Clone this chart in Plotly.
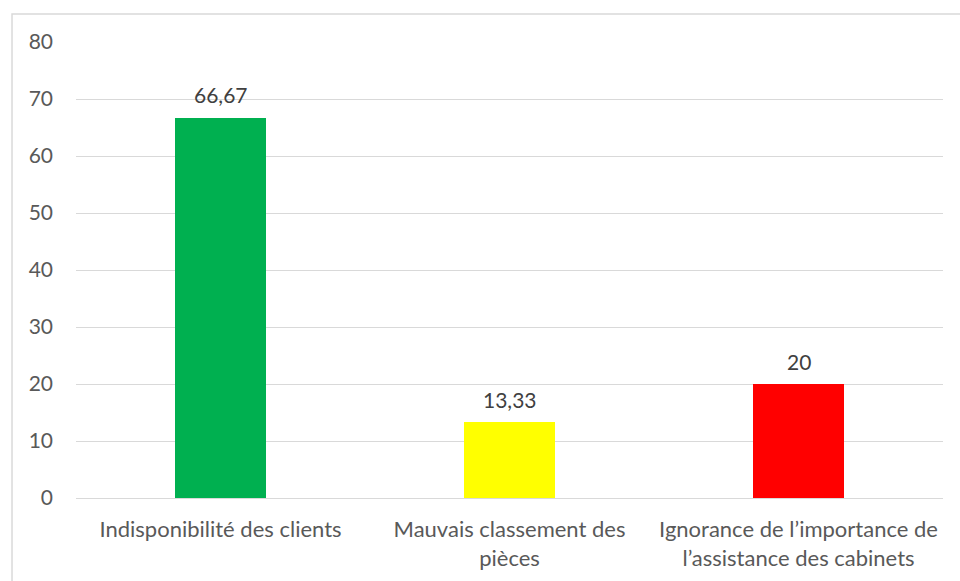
import plotly.graph_objects as go

categories = ["Indisponibilité des clients",
              "Mauvais classement des<br>pièces",
              "Ignorance de l’importance de<br>l’assistance des cabinets"]
values = [66.67, 13.33, 20]
colors = ["#00B050", "#FFFF00", "#FF0000"]
y_ticks = [0, 10, 20, 30, 40, 50, 60, 70, 80]

labels = [f"{v:g}".replace(".", ",") for v in values]

FONT = "Lato"
SIZE = 21
fig = go.Figure(go.Bar(
    x=categories, y=values, marker=dict(color=colors, line=dict(width=0)),
    width=0.315, cliponaxis=False,
))

for c, v, t in zip(categories, values, labels):
    fig.add_annotation(x=c, y=v, text=t, showarrow=False, yanchor="middle",
                       yshift=23, font=dict(size=SIZE, color="#404040", family=FONT))

fig.update_layout(
    width=960, height=581,
    margin=dict(l=76, r=17, t=42, b=83),
    paper_bgcolor="white", plot_bgcolor="white",
    font=dict(family=FONT, size=SIZE, color="#595959"),
    showlegend=False,
    bargap=0,
    xaxis=dict(showgrid=False, showline=False, ticks="", ticklabelstandoff=16,
               automargin=False, tickfont=dict(size=22, color="#595959")),
    yaxis=dict(range=[0, 80], tickvals=y_ticks, showgrid=True, gridcolor="#D9D9D9",
               gridwidth=1, zeroline=True, zerolinecolor="#D9D9D9", zerolinewidth=1,
               showline=False, ticks="", ticklabelstandoff=22, automargin=False,
               tickfont=dict(size=SIZE, color="#595959")),
    shapes=[dict(type="rect", xref="paper", yref="paper",
                 x0=-0.0738, x1=1.05, y0=-0.3, y1=1.0614,
                 line=dict(color="#D9D9D9", width=1.5), fillcolor="rgba(0,0,0,0)",
                 layer="below")],
)

fig.write_html("out.html", config={"displayModeBar": False},
               post_script="document.body.style.margin='0';document.body.style.overflow='hidden';")
